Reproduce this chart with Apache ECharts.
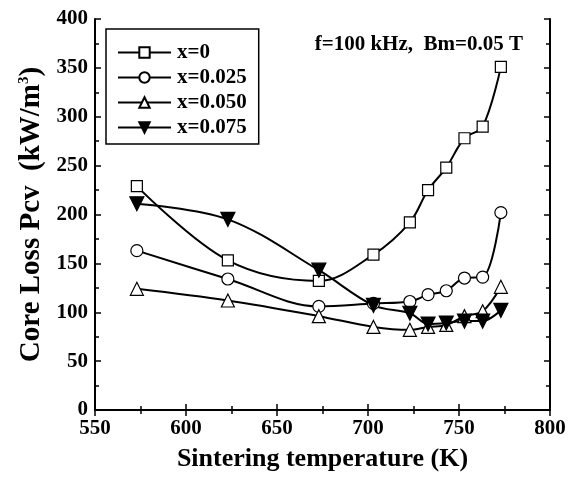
<!DOCTYPE html>
<html>
<head>
<meta charset="utf-8">
<script src="https://cdn.jsdelivr.net/npm/echarts@6/dist/echarts.min.js"></script>
<style>
  html, body { margin: 0; padding: 0; background: #fff; }
  #main { width: 577px; height: 477px; }
</style>
</head>
<body>
<div id="main"></div>
<script>
// sintering temperature (K)
var temps = [573, 623, 673, 703, 723, 733, 743, 753, 763, 773];
// core loss Pcv (kW/m3) per composition
var lossX0 = [229, 153, 132, 159, 192, 225, 248, 278, 290, 351];
var lossX025 = [163, 134, 106, 109, 111, 118, 122, 135, 136, 202];
var lossX050 = [124, 112, 96, 85, 82, 85, 87, 96, 101, 126];
var lossX075 = [211, 195, 143, 107, 99, 88, 89, 91, 91, 102];
var seriesNames = ['x=0', 'x=0.025', 'x=0.050', 'x=0.075'];

var FONT = '"Liberation Serif", "DejaVu Serif", serif';

function pairs(ys) {
  return temps.map(function (t, i) { return [t, ys[i]]; });
}

function makeSeries(name, ys, symbol, size, filled) {
  return {
    name: name,
    type: 'line',
    smooth: 0.35,
    data: pairs(ys),
    symbol: symbol,
    symbolSize: size,
    showAllSymbol: true,
    lineStyle: { color: '#000', width: 2 },
    itemStyle: {
      color: filled ? '#000' : '#fff',
      borderColor: '#000',
      borderWidth: 1.2
    },
    emphasis: { disabled: true },
    z: 3
  };
}

var chart = echarts.init(document.getElementById('main'), null, { renderer: 'canvas' });

var tickLabel = { fontFamily: FONT, fontWeight: 'bold', fontSize: 21, color: '#000' };
var axisLine = { show: true, lineStyle: { color: '#000', width: 2 } };
var axisTick = { show: true, inside: true, length: 6, lineStyle: { color: '#000', width: 1.5 } };
var minorTick = { show: true, splitNumber: 2, length: 4, lineStyle: { color: '#000', width: 1.5 } };

var option = {
  backgroundColor: '#fff',
  animation: false,
  grid: { left: 95, right: 27, top: 19, bottom: 65 },
  legend: {
    orient: 'vertical',
    left: 106,
    top: 29,
    padding: [13, 12, 6, 11],
    itemWidth: 53,
    itemHeight: 13,
    itemGap: 4,
    borderColor: '#000',
    borderWidth: 1.5,
    data: seriesNames,
    textStyle: { fontFamily: FONT, fontWeight: 'bold', fontSize: 21, color: '#000', padding: [0, 0, 0, 1] },
    selectedMode: false
  },
  graphic: [{
    type: 'text',
    right: 54,
    top: 34,
    style: {
      text: 'f=100 kHz,  Bm=0.05 T',
      font: 'bold 21px ' + FONT,
      fill: '#000'
    }
  }],
  xAxis: [{
    type: 'value',
    min: 550, max: 800, interval: 50,
    name: 'Sintering temperature (K)',
    nameLocation: 'middle',
    nameGap: 36,
    nameTextStyle: { fontFamily: FONT, fontWeight: 'bold', fontSize: 26, color: '#000' },
    axisLine: axisLine,
    axisTick: axisTick,
    minorTick: minorTick,
    axisLabel: Object.assign({ margin: 8 }, tickLabel),
    splitLine: { show: false }
  }, {
    type: 'value',
    position: 'top',
    min: 550, max: 800, interval: 50,
    axisLine: axisLine,
    axisTick: axisTick,
    minorTick: minorTick,
    axisLabel: { show: false },
    splitLine: { show: false }
  }],
  yAxis: [{
    type: 'value',
    min: 0, max: 400, interval: 50,
    name: '{b|Core Loss Pcv  (kW/m}{s|3}{b|)}',
    nameLocation: 'middle',
    nameGap: 49,
    nameRotate: 90,
    nameTextStyle: {
      rich: {
        b: { fontFamily: FONT, fontWeight: 'bold', fontSize: 29, color: '#000' },
        s: { fontFamily: FONT, fontWeight: 'bold', fontSize: 15, color: '#000', verticalAlign: 'top', padding: [0, 0, 14, 0] }
      }
    },
    axisLine: axisLine,
    axisTick: axisTick,
    minorTick: minorTick,
    axisLabel: Object.assign({ margin: 7 }, tickLabel),
    splitLine: { show: false }
  }, {
    type: 'value',
    position: 'right',
    min: 0, max: 400, interval: 50,
    axisLine: axisLine,
    axisTick: axisTick,
    minorTick: minorTick,
    axisLabel: { show: false },
    splitLine: { show: false }
  }],
  series: [
    makeSeries(seriesNames[0], lossX0, 'rect', 11, false),
    makeSeries(seriesNames[1], lossX025, 'circle', 12, false),
    makeSeries(seriesNames[2], lossX050, 'triangle', 13, false),
    makeSeries(seriesNames[3], lossX075, 'path://M0,0 L12,0 L6,10 Z', 14, true)
  ]
};

chart.setOption(option);
</script>
</body>
</html>
